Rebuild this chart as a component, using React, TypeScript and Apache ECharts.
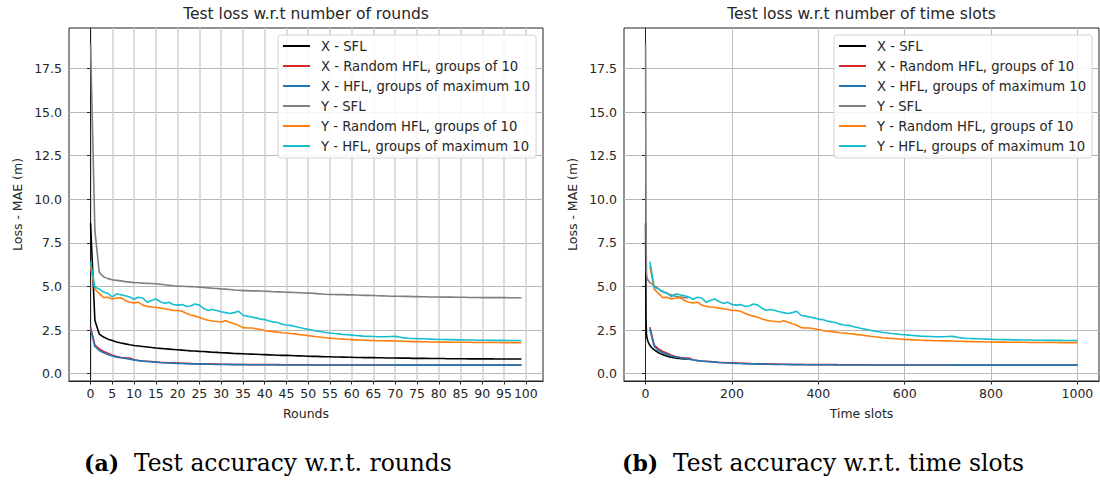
import React, { useEffect, useRef } from "react";
import * as echarts from "echarts";

// ---- data ----
const SERIES_NAMES = [
  "X - SFL",
  "X - Random HFL, groups of 10",
  "X - HFL, groups of maximum 10",
  "Y - SFL",
  "Y - Random HFL, groups of 10",
  "Y - HFL, groups of maximum 10",
];
const COLORS = ["#000000", "#d62728", "#1f77b4", "#7f7f7f", "#ff7f0e", "#17becf"];

// loss per round (rounds 0..99)
const X_SFL = [
  8.63, 3.05, 2.27, 2.1, 1.98, 1.9, 1.82, 1.76, 1.71, 1.66,
  1.62, 1.59, 1.56, 1.53, 1.5, 1.47, 1.45, 1.43, 1.41, 1.39,
  1.37, 1.35, 1.33, 1.31, 1.3, 1.28, 1.27, 1.25, 1.23, 1.22,
  1.2, 1.19, 1.18, 1.16, 1.15, 1.14, 1.13, 1.12, 1.11, 1.1,
  1.09, 1.08, 1.07, 1.06, 1.05, 1.05, 1.04, 1.03, 1.02, 1.01,
  1.0, 0.99, 0.99, 0.98, 0.97, 0.97, 0.96, 0.96, 0.95, 0.94,
  0.94, 0.93, 0.93, 0.92, 0.92, 0.92, 0.91, 0.91, 0.9, 0.9,
  0.9, 0.89, 0.89, 0.89, 0.88, 0.88, 0.88, 0.88, 0.87, 0.87,
  0.87, 0.87, 0.86, 0.86, 0.86, 0.86, 0.86, 0.85, 0.85, 0.85,
  0.85, 0.85, 0.85, 0.84, 0.84, 0.84, 0.84, 0.84, 0.84, 0.84,
];
const X_RANDOM_HFL = [
  2.67, 1.64, 1.42, 1.27, 1.17, 1.06, 0.99, 0.93, 0.91, 0.9,
  0.8, 0.76, 0.73, 0.71, 0.69, 0.67, 0.65, 0.64, 0.63, 0.62,
  0.61, 0.6, 0.59, 0.58, 0.57, 0.57, 0.56, 0.56, 0.55, 0.55,
  0.54, 0.54, 0.54, 0.53, 0.53, 0.53, 0.53, 0.52, 0.52, 0.52,
  0.52, 0.52, 0.52, 0.52, 0.51, 0.51, 0.51, 0.51, 0.51, 0.51,
  0.51, 0.5, 0.5, 0.5, 0.5, 0.5, 0.5, 0.5, 0.5, 0.5,
  0.5, 0.5, 0.5, 0.5, 0.5, 0.5, 0.5, 0.5, 0.5, 0.5,
  0.5, 0.5, 0.5, 0.5, 0.5, 0.5, 0.5, 0.5, 0.5, 0.5,
  0.49, 0.49, 0.49, 0.49, 0.49, 0.49, 0.49, 0.49, 0.49, 0.49,
  0.49, 0.49, 0.49, 0.49, 0.49, 0.49, 0.49, 0.49, 0.49, 0.49,
];
const X_HFL = [
  2.57, 1.56, 1.33, 1.2, 1.1, 1.01, 0.95, 0.91, 0.87, 0.83,
  0.78, 0.75, 0.72, 0.7, 0.68, 0.66, 0.64, 0.63, 0.61, 0.6,
  0.59, 0.58, 0.57, 0.56, 0.56, 0.55, 0.55, 0.54, 0.54, 0.53,
  0.53, 0.53, 0.52, 0.52, 0.52, 0.52, 0.51, 0.51, 0.51, 0.51,
  0.51, 0.51, 0.51, 0.5, 0.5, 0.5, 0.5, 0.5, 0.5, 0.5,
  0.5, 0.5, 0.5, 0.5, 0.5, 0.5, 0.5, 0.5, 0.5, 0.5,
  0.5, 0.5, 0.5, 0.5, 0.5, 0.5, 0.5, 0.5, 0.5, 0.5,
  0.49, 0.49, 0.49, 0.49, 0.49, 0.49, 0.49, 0.49, 0.49, 0.49,
  0.49, 0.49, 0.49, 0.49, 0.49, 0.49, 0.49, 0.49, 0.49, 0.49,
  0.49, 0.49, 0.49, 0.49, 0.49, 0.49, 0.49, 0.49, 0.49, 0.49,
];
const Y_SFL = [
  18.9, 8.2, 5.81, 5.55, 5.45, 5.38, 5.35, 5.32, 5.28, 5.25,
  5.22, 5.21, 5.19, 5.18, 5.17, 5.16, 5.13, 5.1, 5.07, 5.04,
  5.02, 5.01, 5.0, 4.99, 4.98, 4.96, 4.94, 4.92, 4.9, 4.88,
  4.86, 4.85, 4.83, 4.8, 4.78, 4.76, 4.76, 4.75, 4.75, 4.74,
  4.73, 4.72, 4.7, 4.69, 4.68, 4.67, 4.66, 4.65, 4.64, 4.63,
  4.62, 4.61, 4.59, 4.57, 4.55, 4.54, 4.54, 4.53, 4.53, 4.52,
  4.52, 4.51, 4.5, 4.49, 4.49, 4.48, 4.47, 4.46, 4.45, 4.44,
  4.44, 4.44, 4.43, 4.43, 4.42, 4.42, 4.41, 4.41, 4.4, 4.4,
  4.4, 4.39, 4.39, 4.39, 4.38, 4.38, 4.38, 4.37, 4.37, 4.37,
  4.36, 4.36, 4.36, 4.36, 4.36, 4.36, 4.35, 4.35, 4.35, 4.35,
];
const Y_RANDOM_HFL = [
  6.15, 4.85, 4.6, 4.36, 4.38, 4.28, 4.34, 4.35, 4.2, 4.1,
  4.06, 4.1, 3.93, 3.86, 3.82, 3.81, 3.76, 3.72, 3.68, 3.63,
  3.62, 3.58, 3.47, 3.36, 3.3, 3.24, 3.14, 3.06, 3.02, 2.99,
  2.96, 3.04, 2.95, 2.86, 2.78, 2.64, 2.62, 2.62, 2.58, 2.53,
  2.48, 2.44, 2.41, 2.38, 2.35, 2.33, 2.3, 2.28, 2.24, 2.22,
  2.18, 2.15, 2.12, 2.09, 2.06, 2.04, 2.02, 2.0, 1.98, 1.96,
  1.95, 1.94, 1.93, 1.92, 1.91, 1.9, 1.89, 1.89, 1.88, 1.88,
  1.87, 1.86, 1.86, 1.85, 1.84, 1.84, 1.83, 1.83, 1.82, 1.82,
  1.81, 1.81, 1.81, 1.8, 1.8, 1.8, 1.8, 1.8, 1.79, 1.79,
  1.79, 1.79, 1.79, 1.79, 1.79, 1.78, 1.78, 1.78, 1.78, 1.78,
];
const Y_HFL = [
  6.42, 4.95, 4.86, 4.68, 4.6, 4.4, 4.58, 4.52, 4.47, 4.4,
  4.27, 4.38, 4.34, 4.1, 4.2, 4.28, 4.14, 4.03, 4.1, 3.97,
  3.93, 3.96, 3.86, 3.88, 4.0, 3.93, 3.74, 3.64, 3.68, 3.62,
  3.55, 3.5, 3.45, 3.5, 3.58, 3.35, 3.3, 3.25, 3.2, 3.13,
  3.1, 3.02, 2.97, 2.93, 2.84, 2.79, 2.77, 2.71, 2.65, 2.59,
  2.54, 2.49, 2.44, 2.4, 2.36, 2.33, 2.3, 2.28, 2.25, 2.23,
  2.21, 2.19, 2.17, 2.15, 2.14, 2.13, 2.12, 2.12, 2.12, 2.13,
  2.14, 2.1, 2.05, 2.03, 2.02, 2.01, 2.0, 1.99, 1.98, 1.97,
  1.96, 1.96, 1.95, 1.95, 1.94, 1.94, 1.93, 1.93, 1.93, 1.92,
  1.92, 1.92, 1.91, 1.91, 1.91, 1.91, 1.9, 1.9, 1.9, 1.9,
];
const SERIES_VALUES = [X_SFL, X_RANDOM_HFL, X_HFL, Y_SFL, Y_RANDOM_HFL, Y_HFL];
// time slots consumed per round: SFL = 1, HFL = 10 (round i ends at slot 10*(i+1))
const SLOTS_PER_ROUND = [1, 10, 10, 1, 10, 10];

const ROUND_TICKS = [0, 5, 10, 15, 20, 25, 30, 35, 40, 45, 50, 55, 60, 65, 70, 75, 80, 85, 90, 95, 100];
const SLOT_TICKS = [0, 200, 400, 600, 800, 1000];
const LOSS_TICKS = [0, 2.5, 5, 7.5, 10, 12.5, 15, 17.5];

const TITLES = ["Test loss w.r.t number of rounds", "Test loss w.r.t number of time slots"];
const X_NAMES = ["Rounds", "Time slots"];
const Y_NAME = "Loss - MAE (m)";
const CAPTION_TAGS = ["(a)", "(b)"];
const CAPTIONS = ["Test accuracy w.r.t. rounds", "Test accuracy w.r.t. time slots"];

const SANS = "DejaVu Sans";
const SERIF = "DejaVu Serif";
const TXT = "#262626";

export default function App() {
  const ref = useRef<HTMLDivElement>(null);

  useEffect(() => {
    if (!ref.current) return;
    const chart = echarts.init(ref.current, undefined, { renderer: "svg" });

    const grids = [
      { left: 69, top: 28, width: 474, height: 353 },
      { left: 624, top: 28, width: 475, height: 353 },
    ];
    const xRanges = [
      [-4.95, 103.95],
      [-50, 1050],
    ];
    const xTicks = [ROUND_TICKS, SLOT_TICKS];
    const vGridColor = ["#d0d0d0", "#bdbdbd"];
    const vGridWidth = [1.5, 1];

    const xAxis = [0, 1].map((i) => ({
      type: "value",
      gridIndex: i,
      min: xRanges[i][0],
      max: xRanges[i][1],
      name: X_NAMES[i],
      nameLocation: "middle",
      nameGap: 26,
      nameTextStyle: { fontFamily: SANS, fontSize: 12.5, color: TXT },
      axisLine: { show: true, onZero: false, lineStyle: { color: "#222", width: 1 } },
      axisTick: { show: true, length: 3.5, customValues: xTicks[i], lineStyle: { color: "#222", width: 1 } },
      axisLabel: {
        customValues: xTicks[i],
        fontFamily: SANS,
        fontSize: 12.5,
        color: TXT,
        margin: 6,
        formatter: (v: number) => String(v),
      },
      splitLine: { show: true, lineStyle: { color: vGridColor[i], width: vGridWidth[i] } },
    }));

    const yAxis = [0, 1].map((i) => ({
      type: "value",
      gridIndex: i,
      min: -0.42,
      max: 19.82,
      name: Y_NAME,
      nameLocation: "middle",
      nameGap: 45,
      nameTextStyle: { fontFamily: SANS, fontSize: 12.5, color: TXT },
      axisLine: { show: true, lineStyle: { color: "#222", width: 1 } },
      axisTick: { show: true, length: 3.5, customValues: LOSS_TICKS, lineStyle: { color: "#222", width: 1 } },
      axisLabel: {
        customValues: LOSS_TICKS,
        fontFamily: SANS,
        fontSize: 12.5,
        color: TXT,
        margin: 7,
        formatter: (v: number) => v.toFixed(1),
      },
      splitLine: { show: true, lineStyle: { color: "#b8b8b8", width: 1 } },
    }));

    const series: any[] = [];
    [0, 1].forEach((g) => {
      SERIES_NAMES.forEach((name, k) => {
        const vals = SERIES_VALUES[k];
        const data = vals.map((v, r) => [g === 0 ? r : SLOTS_PER_ROUND[k] === 1 ? r : SLOTS_PER_ROUND[k] * (r + 1), v]);
        series.push({
          type: "line",
          name,
          xAxisIndex: g,
          yAxisIndex: g,
          data,
          symbol: "none",
          showSymbol: false,
          silent: true,
          lineStyle: { color: COLORS[k], width: 1.6 },
          itemStyle: { color: COLORS[k] },
        });
      });
    });

    const legendLefts = [278, 834];
    const legend = [0, 1].map((i) => ({
      orient: "vertical",
      left: legendLefts[i],
      top: 35,
      data: SERIES_NAMES,
      icon: "rect",
      itemWidth: 27,
      itemHeight: 2,
      itemGap: 0,
      padding: [1, 6, 2, 5],
      selectedMode: false,
      textStyle: { fontFamily: SANS, fontSize: 13.2, color: TXT, lineHeight: 20, padding: [0, 0, 0, 6] },
      backgroundColor: "rgba(255,255,255,0.85)",
      borderColor: "#d4d4d4",
      borderWidth: 1,
      borderRadius: 3,
    }));

    const titleCenters = [306, 861.5];
    const captionLefts = [84, 622];
    const graphic: any[] = [];
    [0, 1].forEach((i) => {
      graphic.push({
        type: "text",
        x: titleCenters[i],
        y: 14,
        silent: true,
        style: {
          text: TITLES[i],
          align: "center",
          verticalAlign: "middle",
          fontFamily: SANS,
          fontSize: 15.5,
          fill: TXT,
        },
      });
      graphic.push({
        type: "text",
        x: captionLefts[i],
        y: 463,
        silent: true,
        style: {
          text: `{b|${CAPTION_TAGS[i]}}{n|  ${CAPTIONS[i]}}`,
          align: "left",
          verticalAlign: "middle",
          rich: {
            b: { fontFamily: SERIF, fontWeight: "bold", fontSize: 22, fill: "#000" },
            n: { fontFamily: SERIF, fontSize: 23.4, fill: "#000" },
          },
        },
      });
    });

    chart.setOption({
      animation: false,
      backgroundColor: "#ffffff",
      grid: grids.map((g) => ({ ...g, show: true, borderColor: "#222", borderWidth: 1, backgroundColor: "transparent", containLabel: false })),
      xAxis,
      yAxis,
      legend,
      series,
      graphic,
    });

    return () => chart.dispose();
  }, []);

  return (
    <div
      ref={ref}
      style={{ position: "fixed", left: 0, top: 0, width: 1100, height: 481, background: "#fff" }}
    />
  );
}
